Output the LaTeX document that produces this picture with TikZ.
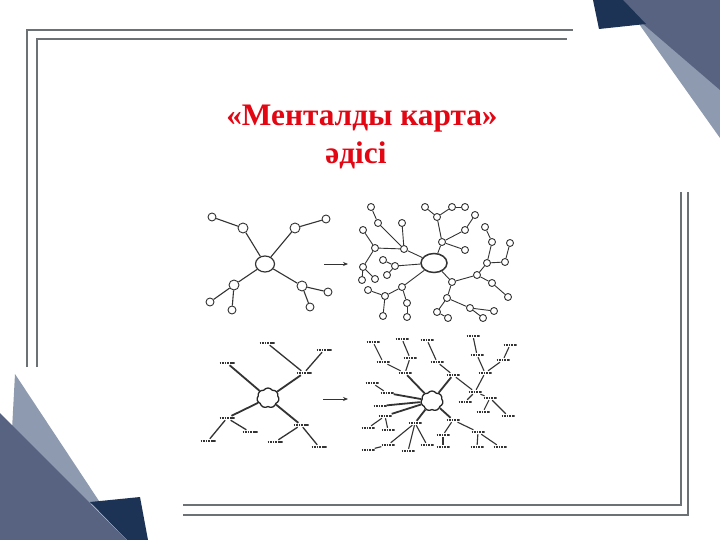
\documentclass[tikz,border=0pt]{standalone}
\usepackage{fontspec}
\setmainfont{Liberation Serif}
\usetikzlibrary{shapes.symbols,shapes.geometric,arrows.meta}
\definecolor{navyc}{HTML}{1D3356}
\definecolor{slatec}{HTML}{576381}
\definecolor{lightc}{HTML}{8E9AAF}
\definecolor{framec}{HTML}{6C7176}
\definecolor{titlec}{HTML}{E30613}
\definecolor{inkc}{HTML}{333333}
\tikzset{
  framel/.style={draw=framec, line width=1.8pt},
  titletext/.style={text=titlec, font=\fontsize{31.3}{31}\selectfont\bfseries, inner sep=0pt, anchor=base},
  nd/.style={circle, draw=inkc, line width=0.9pt, minimum size=8pt, inner sep=0pt, fill=white},
  ndm/.style={nd, minimum size=10pt},
  ndc/.style={ellipse, draw=inkc, line width=1.2pt, minimum width=19pt, minimum height=16pt, inner sep=0pt, fill=white},
  blob/.style={cloud, cloud puffs=7, cloud puff arc=110, draw=black!85, line width=1.3pt, minimum width=22pt, minimum height=20pt, inner sep=0pt},
  edg/.style={draw=inkc, line width=0.9pt},
  thk/.style={draw=black!80, line width=1.8pt},
  arr/.style={draw=inkc, line width=0.9pt, -{Stealth[length=5pt,width=4pt]}},
  lbl/.style={rectangle, minimum width=15pt, minimum height=4pt, inner sep=0pt,
    path picture={\draw[line width=2pt, dash pattern=on 1.6pt off 0.6pt on 2.4pt off 0.7pt, black!80] (path picture bounding box.west) -- (path picture bounding box.east);}},
}
\begin{document}
\begin{tikzpicture}[x=1pt,y=-1pt]
\useasboundingbox (0,0) rectangle (720,540);
\fill[white] (0,0) rectangle (720,540);
% corner decorations
\fill[lightc] (622,0) -- (720,0) -- (720,138) -- cycle;
\fill[slatec] (616,0) -- (720,0) -- (720,90) -- (642,23) -- cycle;
\fill[navyc] (593,0) -- (623,0) -- (646,24) -- (599,29) -- cycle;
\fill[lightc] (15,374) -- (101,504) -- (8,504) -- cycle;
\fill[navyc] (90,502) -- (140,497) -- (148,540) -- (127,540) -- cycle;
\fill[slatec] (0,413) -- (127,540) -- (0,540) -- cycle;
% frames
\draw[framel] (27,367) -- (27,30) -- (573,30);
\draw[framel] (37,367) -- (37,39) -- (567,39);
\draw[framel] (183,515) -- (688,515) -- (688,192);
\draw[framel] (183,505) -- (681,505) -- (681,192);
% title
\node[titletext] (t1) at (362,126) {«Менталды карта»};
\node[titletext] (t2) at (356,164) {әдісі};

% ---------- top-left mind map ----------
\node[ndc] (c1) at (265,264) {};
\node[ndm] (n1) at (243,228) {};
\node[nd] (n2) at (212,217) {};
\node[ndm] (n3) at (295,228) {};
\node[nd] (n4) at (326,219) {};
\node[ndm] (n5) at (234,285) {};
\node[nd] (n6) at (210,302) {};
\node[nd] (n7) at (232,310) {};
\node[ndm] (n8) at (302,286) {};
\node[nd] (n9) at (328,292) {};
\node[nd] (n10) at (310,307) {};
\foreach \a/\b in {c1/n1,n1/n2,c1/n3,n3/n4,c1/n5,n5/n6,n5/n7,c1/n8,n8/n9,n8/n10}
  \draw[edg, line width=1.1pt] (\a) -- (\b);
\coordinate (a1s) at (324,264);
\coordinate (a1e) at (348,264);
\draw[arr] (a1s) -- (a1e);

% ---------- top-right mind map ----------
\node[ndc, minimum width=26pt, minimum height=19pt, line width=1.5pt] (c2) at (434,263) {};
\foreach \n/\x/\y in {a/371/207,b/378/223,c/402/223,d/363/230,e/375/248,f/404/249,g/383/260,h/395/266,i/387/275,j/363/267,k/362/280,l/375/279,m/368/290,n/385/296,o/402/287,p/407/303,q/383/316,r/407/317,s/425/207,t/437/217,u/452/207,v/465/207,w/475/215,x/465/230,y/442/242,z/465/250,aa/485/227,bb/492/242,cc/510/243,dd/487/263,ee/505/262,ff/477/275,gg/492/283,hh/452/282,ii/508/297,jj/447/298,kk/437/312,ll/448/318,mm/470/308,nn/483/318,oo/494/311}
  \node[nd, minimum size=7pt] (\n) at (\x,\y) {};
\foreach \a/\b in {c2/f,f/c,f/b,b/a,f/e,e/d,e/j,j/k,j/l,c2/h,h/g,h/i,c2/o,o/n,n/m,n/q,o/p,p/r,c2/y,y/t,t/s,t/u,u/v,y/x,x/w,y/z,c2/hh,hh/ff,ff/dd,dd/bb,bb/aa,dd/ee,ee/cc,ff/gg,gg/ii,hh/jj,jj/kk,kk/ll,jj/mm,mm/nn,mm/oo}
  \draw[edg] (\a) -- (\b);

% ---------- bottom-left mind map ----------
\node[blob] (b1) at (268,398) {};
\foreach \n/\x/\y in {bl1/304/373,bl2/267/343,bl3/324/350,bl4/227/363,bl5/227/418,bl6/208/441,bl7/250/432,bl8/301/425,bl9/275/442,bl10/319/447}
  \node[lbl] (\n) at (\x,\y) {};
\foreach \a/\b in {b1/bl1,b1/bl4,b1/bl5,b1/bl8}
  \draw[thk] (\a) -- (\b);
\foreach \a/\b in {bl1/bl2,bl1/bl3,bl5/bl6,bl5/bl7,bl8/bl9,bl8/bl10}
  \draw[edg, line width=1.3pt] (\a) -- (\b);
\coordinate (a2s) at (323,399);
\coordinate (a2e) at (348,399);
\draw[arr] (a2s) -- (a2e);

% ---------- bottom-right mind map ----------
\node[blob] (b2) at (432,401) {};
\foreach \n/\x/\y in {l1/373/342,l2/402/339,l3/427/340,l4/383/362,l5/410/358,l6/437/362,l7/405/373,l8/372/383,l9/387/393,l10/380/406,l11/385/416,l12/368/428,l13/388/430,l14/415/423,l15/368/450,l16/388/445,l17/408/451,l18/427/445,r1/453/375,r2/473/336,r3/477/355,r4/510/345,r5/503/360,r6/485/373,r7/475/392,r8/465/402,r9/490/398,r10/483/412,r11/508/416,r12/453/420,r13/443/435,r14/478/432,r15/443/447,r16/477/447,r17/500/447}
  \node[lbl, minimum width=13pt] (\n) at (\x,\y) {};
\foreach \a/\b in {b2/l7,b2/r1,b2/l9,b2/l10,b2/l11,b2/l14,b2/r12}
  \draw[thk] (\a) -- (\b);
\foreach \a/\b in {l7/l4,l4/l1,l7/l5,l5/l2,r1/l6,l6/l3,l9/l8,l11/l12,l11/l13,l14/l16,l14/l17,l16/l15,l14/l18,r1/r7,r7/r6,r6/r3,r3/r2,r6/r5,r5/r4,r7/r8,r7/r9,r9/r10,r9/r11,r12/r13,r12/r14,r13/r15,r14/r16,r14/r17}
  \draw[edg, line width=1.1pt] (\a) -- (\b);
\end{tikzpicture}
\end{document}
